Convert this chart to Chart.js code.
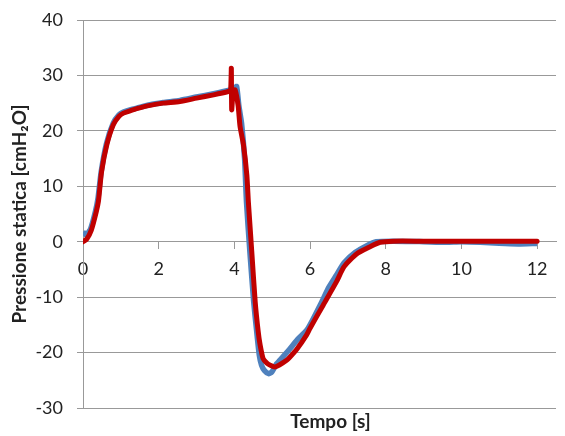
<!DOCTYPE html>
<html>
<head>
<meta charset="utf-8">
<script src="https://cdn.jsdelivr.net/npm/chart.js@4/dist/chart.umd.min.js"></script>
<style>
  html, body { margin: 0; padding: 0; background: #ffffff; }
  #chart { display: block; }
</style>
</head>
<body>
<canvas id="chart" width="565" height="436"></canvas>
<script>
// Pressione statica misurata (blu) e simulata (rosso) nel tempo
const timeMeasured = [0, 0.08, 0.2, 0.33, 0.4, 0.48, 0.62, 0.8, 0.95, 1.07, 1.24, 1.42, 1.77, 2.12, 2.56, 3.0, 3.45, 3.84, 4.0, 4.06, 4.12, 4.19, 4.27, 4.32, 4.41, 4.51, 4.59, 4.66, 4.72, 4.8, 4.9, 4.99, 5.12, 5.2, 5.47, 5.65, 5.91, 6.0, 6.3, 6.5, 6.7, 6.9, 7.2, 7.5, 7.75, 8.2, 9.0, 9.6, 10.0, 10.5, 11.0, 11.5, 12.0];
const pressureMeasured = [1.8, 1.2, 2.3, 5.5, 8.0, 12.6, 17.7, 21.4, 22.9, 23.4, 23.8, 24.1, 24.7, 25.1, 25.5, 26.1, 26.7, 27.3, 27.7, 28.0, 24.5, 21.4, 15.0, 7.2, -1.8, -10.8, -16.2, -20.5, -22.3, -23.3, -23.8, -23.5, -22.0, -21.4, -19.3, -17.8, -16.0, -15.0, -11.0, -8.2, -6.0, -3.8, -1.9, -0.7, 0.0, 0.1, 0.0, -0.1, 0.0, -0.1, -0.3, -0.4, -0.3];

const timeSimulated = [0, 0.1, 0.22, 0.35, 0.41, 0.49, 0.63, 0.8, 0.95, 1.07, 1.24, 1.42, 1.77, 2.12, 2.56, 3.0, 3.45, 3.84, 3.9, 3.92, 3.93, 3.97, 4.02, 4.1, 4.15, 4.24, 4.33, 4.37, 4.46, 4.55, 4.63, 4.68, 4.76, 4.86, 4.95, 5.07, 5.2, 5.38, 5.47, 5.65, 5.91, 6.0, 6.35, 6.7, 6.9, 7.23, 7.59, 7.85, 8.2, 9.0, 10.0, 11.0, 12.0];
const pressureSimulated = [0, 0.5, 2.1, 5.4, 7.4, 12.6, 17.5, 21.1, 22.6, 23.2, 23.6, 24.0, 24.6, 25.0, 25.3, 25.9, 26.5, 27.1, 27.3, 31.3, 23.8, 27.3, 27.4, 24.5, 20.8, 17.5, 12.0, 7.2, -1.8, -10.8, -16.2, -18.6, -21.1, -21.9, -22.3, -22.6, -22.2, -21.4, -20.8, -19.4, -16.8, -15.6, -11.4, -7.2, -4.5, -2.2, -0.9, -0.1, 0.1, 0.1, 0.1, 0.1, 0.1];

const xTickValues = [0, 2, 4, 6, 8, 10, 12];
const yTickValues = [-30, -20, -10, 0, 10, 20, 30, 40];
const xAxisCaption = 'Tempo [s]';
const yAxisCaption = 'Pressione statica [cmH₂O]';

const toPoints = (xs, ys) => xs.map((x, i) => ({ x: x, y: ys[i] }));

const gridGrey = '#999999';
const textColor = '#222222';
const fontFamily = 'Lato, "Open Sans", sans-serif';

// Time-axis caption, drawn under the plot area (the x axis itself sits on y = 0)
const timeCaption = {
  id: 'timeCaption',
  afterDraw(chart) {
    const { ctx, chartArea } = chart;
    ctx.save();
    ctx.font = 'bold 19px ' + fontFamily;
    ctx.fillStyle = textColor;
    ctx.textAlign = 'center';
    ctx.textBaseline = 'middle';
    ctx.fillText(xAxisCaption, (chartArea.left + chartArea.right) / 2 + 11, chartArea.bottom + 14);
    ctx.restore();
  }
};

new Chart(document.getElementById('chart'), {
  type: 'scatter',
  data: {
    datasets: [
      {
        label: 'Simulata',
        data: toPoints(timeSimulated, pressureSimulated),
        showLine: true,
        borderColor: '#C00000',
        borderWidth: 5,
        pointRadius: 0,
        tension: 0.2,
        borderJoinStyle: 'round',
        borderCapStyle: 'round',
        order: 0
      },
      {
        label: 'Misurata',
        data: toPoints(timeMeasured, pressureMeasured),
        showLine: true,
        borderColor: '#4F81BD',
        borderWidth: 5.5,
        pointRadius: 0,
        tension: 0.2,
        borderJoinStyle: 'round',
        order: 1
      }
    ]
  },
  plugins: [timeCaption],
  options: {
    responsive: false,
    devicePixelRatio: 1,
    animation: false,
    layout: { padding: { left: 0, top: 20, right: 9, bottom: 28 } },
    plugins: {
      legend: { display: false },
      tooltip: { enabled: false },
      title: { display: false }
    },
    scales: {
      x: {
        type: 'linear',
        position: { y: 0 },
        min: 0,
        max: 12.5,
        afterBuildTicks: (axis) => { axis.ticks = xTickValues.map(v => ({ value: v })); },
        grid: { drawOnChartArea: false, drawTicks: true, tickLength: 7, color: gridGrey },
        border: { color: gridGrey, width: 1 },
        ticks: {
          color: textColor,
          font: { family: fontFamily, size: 18 },
          padding: 10,
          maxRotation: 0
        }
      },
      y: {
        min: -30,
        max: 40,
        afterBuildTicks: (axis) => { axis.ticks = yTickValues.map(v => ({ value: v })); },
        afterFit: (axis) => { axis.width = 83; axis.paddingTop = 0; axis.paddingBottom = 0; },
        grid: { color: gridGrey, tickLength: 6 },
        border: { color: gridGrey, width: 1 },
        ticks: {
          color: textColor,
          font: { family: fontFamily, size: 18 },
          padding: 14
        },
        title: {
          display: true,
          text: yAxisCaption,
          color: textColor,
          font: { family: fontFamily, size: 19, weight: 'bold' },
          padding: { top: 8, bottom: 0 }
        }
      }
    }
  }
});
</script>
</body>
</html>
